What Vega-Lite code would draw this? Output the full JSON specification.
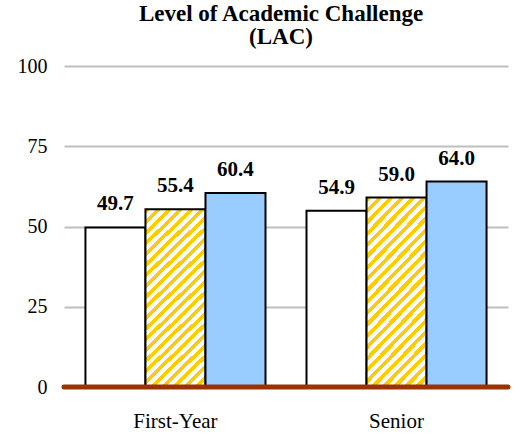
{
  "$schema": "https://vega.github.io/schema/vega-lite/v6.json",
  "autosize": "none",
  "width": 444,
  "height": 321,
  "padding": {"left": 64, "top": 66, "right": 6, "bottom": 47},
  "background": "white",
  "title": {
    "text": ["Level of Academic Challenge", "(LAC)"],
    "font": "Liberation Serif",
    "fontSize": 23,
    "fontWeight": "bold",
    "color": "#000000",
    "lineHeight": 23,
    "offset": 7,
    "dx": -5,
    "frame": "group"
  },
  "data": {
    "values": [
      {"cat": "First-Year", "s": "A", "v": 49.7},
      {"cat": "First-Year", "s": "B", "v": 55.4},
      {"cat": "First-Year", "s": "C", "v": 60.4},
      {"cat": "Senior", "s": "A", "v": 54.9},
      {"cat": "Senior", "s": "B", "v": 59.0},
      {"cat": "Senior", "s": "C", "v": 64.0}
    ]
  },
  "config": {
    "view": {"stroke": null},
    "axis": {"labelFont": "Liberation Serif", "labelColor": "#000000"}
  },
  "encoding": {
    "x": {
      "field": "cat", "type": "nominal",
      "scale": {"paddingInner": 0.1855, "paddingOuter": 0.097},
      "axis": {"title": null, "labelAngle": 0, "domain": false, "ticks": false, "tickSize": 0, "labelPadding": 23, "labelFontSize": 21, "labelBaseline": "top"}
    },
    "xOffset": {"field": "s", "type": "nominal", "scale": {"paddingInner": 0, "paddingOuter": 0}},
    "y": {
      "field": "v", "type": "quantitative",
      "scale": {"domain": [0, 100]},
      "axis": {"title": null, "values": [0, 25, 50, 75, 100], "domain": false, "ticks": false, "tickSize": 0, "labelPadding": 17, "labelFontSize": 20, "gridColor": "#BFBFBF", "gridWidth": 2, "gridOpacity": 1}
    }
  },
  "layer": [
    {
      "mark": {"type": "bar", "stroke": "#000000", "strokeWidth": 2},
      "encoding": {
        "fill": {
          "condition": [
            {"test": "datum.s === 'A'", "value": "#FFFFFF"},
            {"test": "datum.s === 'C'", "value": "#99CCFF"}
          ],
          "value": {
            "gradient": "linear", "x1": 0, "y1": 0, "x2": 0.4424, "y2": 1.354,
            "stops": [
              {"offset": 0, "color": "#FFCC00"}, {"offset": 0.019, "color": "#FFCC00"}, {"offset": 0.019, "color": "#FFFFFF"}, {"offset": 0.04, "color": "#FFFFFF"},
              {"offset": 0.04, "color": "#FFCC00"}, {"offset": 0.059, "color": "#FFCC00"}, {"offset": 0.059, "color": "#FFFFFF"}, {"offset": 0.08, "color": "#FFFFFF"},
              {"offset": 0.08, "color": "#FFCC00"}, {"offset": 0.099, "color": "#FFCC00"}, {"offset": 0.099, "color": "#FFFFFF"}, {"offset": 0.12, "color": "#FFFFFF"},
              {"offset": 0.12, "color": "#FFCC00"}, {"offset": 0.139, "color": "#FFCC00"}, {"offset": 0.139, "color": "#FFFFFF"}, {"offset": 0.16, "color": "#FFFFFF"},
              {"offset": 0.16, "color": "#FFCC00"}, {"offset": 0.179, "color": "#FFCC00"}, {"offset": 0.179, "color": "#FFFFFF"}, {"offset": 0.2, "color": "#FFFFFF"},
              {"offset": 0.2, "color": "#FFCC00"}, {"offset": 0.219, "color": "#FFCC00"}, {"offset": 0.219, "color": "#FFFFFF"}, {"offset": 0.24, "color": "#FFFFFF"},
              {"offset": 0.24, "color": "#FFCC00"}, {"offset": 0.259, "color": "#FFCC00"}, {"offset": 0.259, "color": "#FFFFFF"}, {"offset": 0.28, "color": "#FFFFFF"},
              {"offset": 0.28, "color": "#FFCC00"}, {"offset": 0.299, "color": "#FFCC00"}, {"offset": 0.299, "color": "#FFFFFF"}, {"offset": 0.32, "color": "#FFFFFF"},
              {"offset": 0.32, "color": "#FFCC00"}, {"offset": 0.339, "color": "#FFCC00"}, {"offset": 0.339, "color": "#FFFFFF"}, {"offset": 0.36, "color": "#FFFFFF"},
              {"offset": 0.36, "color": "#FFCC00"}, {"offset": 0.379, "color": "#FFCC00"}, {"offset": 0.379, "color": "#FFFFFF"}, {"offset": 0.4, "color": "#FFFFFF"},
              {"offset": 0.4, "color": "#FFCC00"}, {"offset": 0.419, "color": "#FFCC00"}, {"offset": 0.419, "color": "#FFFFFF"}, {"offset": 0.44, "color": "#FFFFFF"},
              {"offset": 0.44, "color": "#FFCC00"}, {"offset": 0.459, "color": "#FFCC00"}, {"offset": 0.459, "color": "#FFFFFF"}, {"offset": 0.48, "color": "#FFFFFF"},
              {"offset": 0.48, "color": "#FFCC00"}, {"offset": 0.499, "color": "#FFCC00"}, {"offset": 0.499, "color": "#FFFFFF"}, {"offset": 0.52, "color": "#FFFFFF"},
              {"offset": 0.52, "color": "#FFCC00"}, {"offset": 0.539, "color": "#FFCC00"}, {"offset": 0.539, "color": "#FFFFFF"}, {"offset": 0.56, "color": "#FFFFFF"},
              {"offset": 0.56, "color": "#FFCC00"}, {"offset": 0.579, "color": "#FFCC00"}, {"offset": 0.579, "color": "#FFFFFF"}, {"offset": 0.6, "color": "#FFFFFF"},
              {"offset": 0.6, "color": "#FFCC00"}, {"offset": 0.619, "color": "#FFCC00"}, {"offset": 0.619, "color": "#FFFFFF"}, {"offset": 0.64, "color": "#FFFFFF"},
              {"offset": 0.64, "color": "#FFCC00"}, {"offset": 0.659, "color": "#FFCC00"}, {"offset": 0.659, "color": "#FFFFFF"}, {"offset": 0.68, "color": "#FFFFFF"},
              {"offset": 0.68, "color": "#FFCC00"}, {"offset": 0.699, "color": "#FFCC00"}, {"offset": 0.699, "color": "#FFFFFF"}, {"offset": 0.72, "color": "#FFFFFF"},
              {"offset": 0.72, "color": "#FFCC00"}, {"offset": 0.739, "color": "#FFCC00"}, {"offset": 0.739, "color": "#FFFFFF"}, {"offset": 0.76, "color": "#FFFFFF"},
              {"offset": 0.76, "color": "#FFCC00"}, {"offset": 0.779, "color": "#FFCC00"}, {"offset": 0.779, "color": "#FFFFFF"}, {"offset": 0.8, "color": "#FFFFFF"},
              {"offset": 0.8, "color": "#FFCC00"}, {"offset": 0.819, "color": "#FFCC00"}, {"offset": 0.819, "color": "#FFFFFF"}, {"offset": 0.84, "color": "#FFFFFF"},
              {"offset": 0.84, "color": "#FFCC00"}, {"offset": 0.859, "color": "#FFCC00"}, {"offset": 0.859, "color": "#FFFFFF"}, {"offset": 0.88, "color": "#FFFFFF"},
              {"offset": 0.88, "color": "#FFCC00"}, {"offset": 0.899, "color": "#FFCC00"}, {"offset": 0.899, "color": "#FFFFFF"}, {"offset": 0.92, "color": "#FFFFFF"},
              {"offset": 0.92, "color": "#FFCC00"}, {"offset": 0.939, "color": "#FFCC00"}, {"offset": 0.939, "color": "#FFFFFF"}, {"offset": 0.96, "color": "#FFFFFF"},
              {"offset": 0.96, "color": "#FFCC00"}, {"offset": 0.979, "color": "#FFCC00"}, {"offset": 0.979, "color": "#FFFFFF"}, {"offset": 1, "color": "#FFFFFF"}
            ]
          }
        }
      }
    },
    {
      "data": {"values": [{"base": 0}]},
      "mark": {"type": "rule", "color": "#993300", "strokeWidth": 5, "strokeCap": "round"},
      "encoding": {"y": {"field": "base", "type": "quantitative"}, "x": null, "xOffset": null}
    },
    {
      "mark": {"type": "text", "font": "Liberation Serif", "fontSize": 21, "fontWeight": "bold", "color": "#000000", "baseline": "alphabetic", "dy": -17},
      "encoding": {"text": {"field": "v", "type": "quantitative", "format": ".1f"}}
    }
  ]
}
